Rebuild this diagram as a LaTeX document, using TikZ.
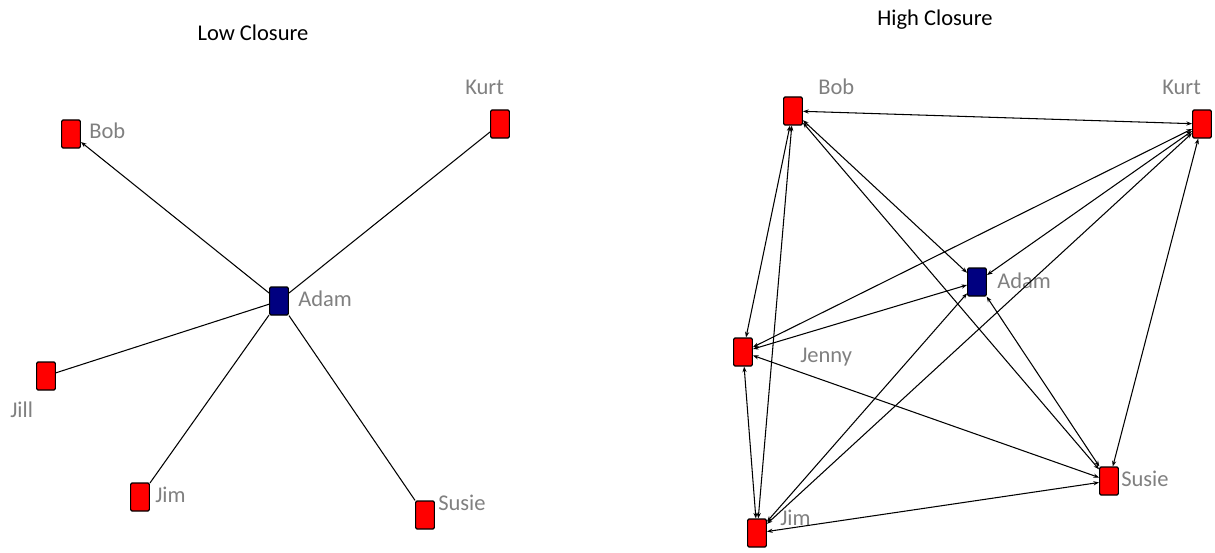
\documentclass[tikz,border=0pt]{standalone}
\usepackage{fontspec}
\setmainfont{Carlito}
\usetikzlibrary{arrows.meta}
\definecolor{egoblue}{RGB}{0,0,128}
\tikzset{
  actor/.style={draw, rectangle, rounded corners=1pt, fill=red, minimum width=0.47cm, minimum height=0.7cm, inner sep=0pt, line width=0.8pt},
  ego/.style={actor, fill=egoblue},
  actorname/.style={text=gray, font=\fontsize{16}{18}\selectfont, inner sep=0pt, anchor=west},
  heading/.style={font=\fontsize{16}{18}\selectfont, inner sep=0pt},
  tie/.style={line width=0.75pt, >={Stealth[length=4pt,width=3pt]}},
}
\begin{document}
\begin{tikzpicture}[x=0.025cm, y=-0.025cm]
            \useasboundingbox (0,0) rectangle (1215,552);

            % Low closure: ties only through Adam
            \node[heading] (lowtitle) at (253,33) {Low Closure};
            \node[ego] (LAdam) at (279,301) {};
            \node[actor] (LBob) at (71,134) {};
            \node[actor] (LKurt) at (500,124) {};
            \node[actor] (LJill) at (46,376) {};
            \node[actor] (LJim) at (140,497) {};
            \node[actor] (LSusie) at (425,515) {};

            \node[actorname] (LAdamname) at (298,299) {Adam};
            \node[actorname] (LBobname) at (89,131) {Bob};
            \node[actorname] (LKurtname) at (465,87) {Kurt};
            \node[actorname] (LJillname) at (10,410) {Jill};
            \node[actorname] (LJimname) at (155,495) {Jim};
            \node[actorname] (LSusiename) at (438,503) {Susie};

            \draw[tie, ->] (LAdam) -- (LBob);
            \draw[tie] (LAdam) -- (LKurt);
            \draw[tie] (LAdam) -- (LJill);
            \draw[tie] (LAdam) -- (LJim);
            \draw[tie] (LAdam) -- (LSusie);

            % High closure: everybody knows everybody
            \node[heading] (hightitle) at (935,20) {High Closure};
            \node[ego] (HAdam) at (977,282) {};
            \node[actor] (HBob) at (793,111) {};
            \node[actor] (HKurt) at (1202,124) {};
            \node[actor] (HJenny) at (743,352) {};
            \node[actor] (HSusie) at (1109,481) {};
            \node[actor] (HJim) at (757,533) {};

            \node[actorname] (HAdamname) at (997,281) {Adam};
            \node[actorname] (HBobname) at (818,87) {Bob};
            \node[actorname] (HKurtname) at (1162,87) {Kurt};
            \node[actorname] (HJennyname) at (800,357) {Jenny};
            \node[actorname] (HSusiename) at (1121,479) {Susie};
            \node[actorname] (HJimname) at (780,518) {Jim};

            \draw[tie, <->] (HBob) -- (HKurt);
            \draw[tie, <->] (HBob) -- (HAdam);
            \draw[tie, <->] (HBob) -- (HJenny);
            \draw[tie, <->] (HBob) -- (HSusie);
            \draw[tie, <->] (HBob) -- (HJim);

            \draw[tie, <->] (HKurt) -- (HAdam);
            \draw[tie, <->] (HKurt) -- (HJenny);
            \draw[tie, <->] (HKurt) -- (HSusie);
            \draw[tie, <->] (HKurt) -- (HJim);

            \draw[tie, <->] (HAdam) -- (HJenny);
            \draw[tie, <->] (HAdam) -- (HSusie);
            \draw[tie, <->] (HAdam) -- (HJim);

            \draw[tie, <->] (HJenny) -- (HSusie);
            \draw[tie, <->] (HJenny) -- (HJim);

            \draw[tie, <->] (HSusie) -- (HJim);
        \end{tikzpicture}
\end{document}
